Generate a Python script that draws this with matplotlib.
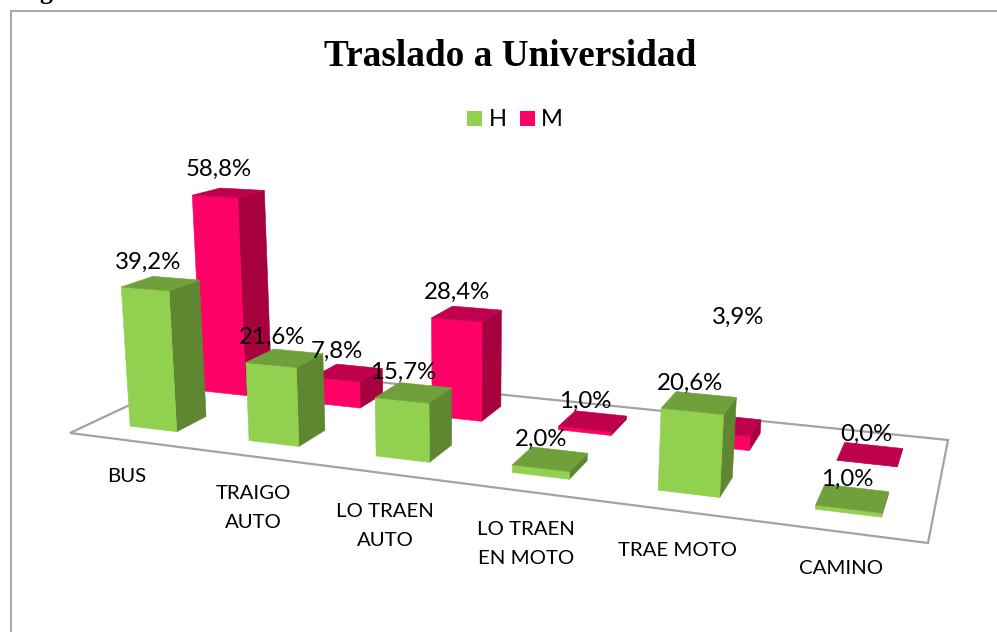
import numpy as np
import matplotlib
matplotlib.use("Agg")
import matplotlib.pyplot as plt
from matplotlib.patches import Polygon, Rectangle

# ---- data ----
categories = ["BUS", "TRAIGO\nAUTO", "LO TRAEN\nAUTO", "LO TRAEN\nEN MOTO", "TRAE MOTO", "CAMINO"]
h_values = [39.2, 21.6, 15.7, 2.0, 20.6, 1.0]
m_values = [58.8, 7.8, 28.4, 1.0, 3.9, 0.0]
series_names = ["H", "M"]

# ---- styles ----
H_COL = dict(front="#92D050", side="#5F8731", top="#70A03C")
M_COL = dict(front="#FF0066", side="#A6003F", top="#BF004C")
GRID = "#A3A3A3"
FONT = "Lato"
U0, U1 = 0.32, 0.72                 # bar extent inside a category slot
ROW_H, ROW_M = (0.15, 0.35), (0.645, 0.85)   # depth extent of the two rows

# ---- camera calibration: (category pos, depth) of known box points -> picture pixels ----
calib = [
    ((0, 0), (70, 433)), ((6, 0), (928, 543)), ((6, 1), (948, 440)),
    ((0+U0, .15), (129, 427)), ((0+U1, .15), (177, 432)), ((0+U1, .35), (206, 417)),
    ((1+U0, .15), (249, 441)), ((1+U1, .15), (299, 446)), ((1+U1, .35), (325, 430)),
    ((2+U0, .15), (376, 456)), ((2+U1, .15), (429, 462)), ((2+U1, .35), (452, 445)),
    ((3+U0, .15), (512, 472)), ((3+U1, .15), (569, 479)), ((3+U1, .35), (587, 460)),
    ((4+U0, .15), (658, 491)), ((4+U1, .15), (719, 497)), ((4+U1, .35), (732, 478)),
    ((5+U0, .15), (814, 508)), ((5+U1, .15), (881, 517)), ((5+U1, .35), (887, 493)),
    ((0+U0, .645), (200, 391)), ((0+U1, .645), (247, 395)),
    ((1+U1, .645), (360, 408)), ((1+U1, .85), (383, 393)),
    ((2+U1, .645), (483, 421)), ((2+U1, .85), (501, 407)),
    ((3+U0, .645), (559, 431)), ((3+U1, .645), (612, 436)), ((3+U1, .85), (626, 418)),
    ((4+U1, .645), (750, 451)), ((4+U1, .85), (760, 435)),
    ((5+U0, .645), (837, 460)), ((5+U1, .645), (897, 467)), ((5+U1, .85), (902, 449)),
]

def fit_homography(pairs):
    A, b = [], []
    for (u, v), (x, y) in pairs:
        A.append([u, v, 1, 0, 0, 0, -u*x, -v*x]); b.append(x)
        A.append([0, 0, 0, u, v, 1, -u*y, -v*y]); b.append(y)
    h = np.linalg.lstsq(np.array(A, float), np.array(b, float), rcond=None)[0]
    return np.append(h, 1).reshape(3, 3)

H = fit_homography(calib)
VP = np.array([467.0, 5709.0, 1.0])      # vanishing point of the verticals
# scale: value 39.2 at the front-left corner of the first bar rises to picture y=287
b0 = H @ np.array([U0, ROW_H[0], 1.0])
SCALE = b0[2] * (287 - b0[1] / b0[2]) / (39.2 * (VP[1] - 287))

def project(u, v, z=0.0):
    p = H @ np.array([u, v, 1.0]) + z * SCALE * VP
    return p[0] / p[2], p[1] / p[2]

fig = plt.figure(figsize=(9.97, 6.32), dpi=100)
ax = fig.add_axes([0, 0, 1, 1])
ax.set_xlim(0, 997); ax.set_ylim(632, 0); ax.axis("off")

# chart frame
ax.plot([11, 11, 997], [632, 11, 11], color="#ABABAB", lw=1.5, solid_joinstyle="miter", zorder=1)
# clipped caption at top of the page
ax.text(17, -0.5, "Figura 1: Traslado a Universidad", family="Liberation Serif", weight="bold",
        fontsize=18.5, va="baseline", ha="left", color="black", clip_on=True)

# floor: three corners as seen, the hidden one from the fitted camera
floor = [calib[0][1], calib[1][1], calib[2][1], project(0, 1)]
ax.add_patch(Polygon(floor, closed=True, fc="white", ec=GRID, lw=1.6, zorder=2))

def bar(i, val, row, col, z):
    u0, u1, v0, v1 = i + U0, i + U1, row[0], row[1]
    front = [project(u0, v0), project(u1, v0), project(u1, v0, val), project(u0, v0, val)]
    side = [project(u1, v0), project(u1, v1), project(u1, v1, val), project(u1, v0, val)]
    top = [project(u0, v0, val), project(u1, v0, val), project(u1, v1, val), project(u0, v1, val)]
    for pts, c in ((side, col["side"]), (front, col["front"]), (top, col["top"])):
        ax.add_patch(Polygon(pts, closed=True, fc=c, ec=c, lw=0.4, zorder=z))

for i, val in enumerate(m_values):
    bar(i, val, ROW_M, M_COL, 3)
for i, val in enumerate(h_values):
    bar(i, val, ROW_H, H_COL, 4)

# value labels
fmt = lambda x: f"{x:.1f}%".replace(".", ",")
h_label_pos = [(148, 262), (272, 337), (403, 372), (541, 439), (690, 383), (847, 479)]
m_label_pos = [(219, 169), (337, 351), (457, 292), (585, 401), (738, 317), (866, 434)]
for vals, posn in ((h_values, h_label_pos), (m_values, m_label_pos)):
    for val, (x, y) in zip(vals, posn):
        ax.text(x, y, fmt(val), family=FONT, fontsize=17.3, ha="center", va="center", color="black", zorder=6)

# category labels
cat_pos = [(127, 477), (253, 508), (385, 526), (526, 544), (677, 550), (841, 568)]
for name, (x, y) in zip(categories, cat_pos):
    ax.text(x, y, name, family=FONT, fontsize=14.7, ha="center", va="center", color="black",
            linespacing=1.85, zorder=6)

# title
ax.text(510, 57, "Traslado a Universidad", family="Liberation Serif", weight="bold", fontsize=26.8,
        ha="center", va="center", color="black")

# legend
ax.add_patch(Rectangle((467, 111), 15, 15, fc=H_COL["front"], ec="none"))
ax.add_patch(Rectangle((520, 111), 15, 15, fc=M_COL["front"], ec="none"))
ax.text(489, 119, series_names[0], family=FONT, fontsize=17, ha="left", va="center")
ax.text(541, 119, series_names[1], family=FONT, fontsize=17, ha="left", va="center")

fig.savefig("out.png", dpi=100)
